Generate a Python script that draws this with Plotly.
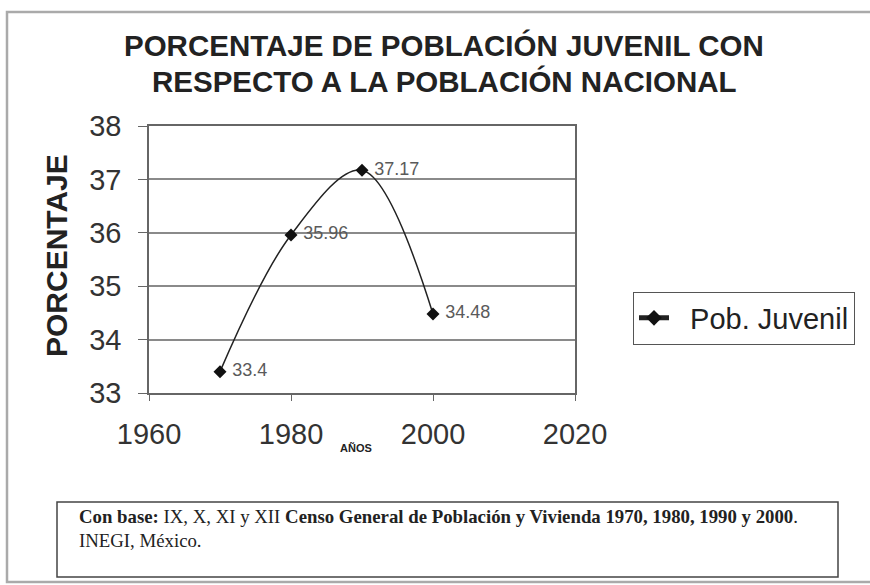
import plotly.graph_objects as go

years = [1970, 1980, 1990, 2000]
values = [33.4, 35.96, 37.17, 34.48]
labels = ["33.4", "35.96", "37.17", "34.48"]
series_name = "Pob. Juvenil"
title_line1 = "PORCENTAJE DE POBLACIÓN JUVENIL CON"
title_line2 = "RESPECTO A LA POBLACIÓN NACIONAL"
x_title = "AÑOS"
y_title = "PORCENTAJE"
source_text = ("<b>Con base:</b> IX, X, XI y XII <b>Censo General de Población y Vivienda "
               "1970, 1980, 1990 y 2000</b>.<br>INEGI, México.")

W, H = 870, 585
L, R, T, B = 149, 295, 126, 192


def px_x(p):
    return (p - L) / (W - L - R)


def px_y(p):
    return (H - B - p) / (H - T - B)


fig = go.Figure()
fig.add_trace(go.Scatter(
    x=years, y=values, mode="lines+markers+text",
    name="\u00a0\u00a0" + series_name,
    line=dict(color="#222222", width=1.5, shape="spline", smoothing=1.0),
    marker=dict(symbol="diamond", size=10, color="#111111"),
    text=[" " + t for t in labels], textposition="middle right",
    textfont=dict(family="Arial", size=18, color="#5a5a5a"),
    cliponaxis=False,
))

fig.update_layout(
    width=W, height=H,
    margin=dict(l=L, r=R, t=T, b=B),
    paper_bgcolor="white", plot_bgcolor="white",
    font=dict(family="Arial", color="#222222"),
    showlegend=True,
    legend=dict(x=px_x(633), y=px_y(318), xanchor="left", yanchor="middle",
                bordercolor="#555555", borderwidth=1, bgcolor="white",
                itemsizing="constant",
                font=dict(family="Arial", size=29, color="#222222")),
)

fig.add_annotation(text="<b>" + title_line1 + "</b>", x=px_x(444), y=px_y(46),
                   xref="paper", yref="paper", xanchor="center", yanchor="middle", showarrow=False,
                   font=dict(size=29.5, family="Arial", color="#222222"))
fig.add_annotation(text="<b>" + title_line2 + "</b>", x=px_x(444), y=px_y(81),
                   xref="paper", yref="paper", xanchor="center", yanchor="middle", showarrow=False,
                   font=dict(size=29.5, family="Arial", color="#222222"))
fig.add_annotation(text="<b>" + x_title + "</b>", x=px_x(356), y=px_y(448),
                   xref="paper", yref="paper", xanchor="center", yanchor="middle", showarrow=False,
                   font=dict(size=11, family="Arial", color="#222222"))
fig.add_annotation(text="<b>" + y_title + "</b>", x=px_x(56), y=px_y(256), textangle=-90,
                   xref="paper", yref="paper", xanchor="center", yanchor="middle", showarrow=False,
                   font=dict(size=30, family="Arial", color="#222222"))
fig.add_annotation(
    text=source_text,
    x=px_x(77), y=px_y(528), xanchor="left", yanchor="middle", align="left",
    xref="paper", yref="paper", showarrow=False,
    font=dict(size=18.8, family="Liberation Serif", color="#222222"))

fig.update_xaxes(range=[1960, 2020], dtick=20, tick0=1960,
                 showgrid=False, showline=True, linecolor="#666666", linewidth=1.5, mirror=True,
                 ticks="outside", ticklen=6, tickcolor="#666666", ticklabelstandoff=8,
                 tickfont=dict(size=29, family="Arial", color="#333333"), zeroline=False)
fig.update_yaxes(range=[33, 38], dtick=1,
                 showgrid=True, gridcolor="#8a8a8a", gridwidth=1.5,
                 showline=True, linecolor="#666666", linewidth=1.5, mirror=True,
                 ticks="outside", ticklen=9, tickcolor="#666666", ticklabelstandoff=11,
                 tickfont=dict(size=29, family="Arial", color="#333333"), zeroline=False)

fig.add_shape(type="rect", xref="paper", yref="paper",
              x0=px_x(7), x1=px_x(880), y0=px_y(582), y1=px_y(12),
              line=dict(color="#aaaaaa", width=2.5), layer="below")
fig.add_shape(type="rect", xref="paper", yref="paper",
              x0=px_x(57), x1=px_x(838), y0=px_y(577), y1=px_y(502),
              line=dict(color="#444444", width=1.5))

fig.write_html("out.html", config={"displayModeBar": False},
               post_script="document.body.style.margin='0px';")
